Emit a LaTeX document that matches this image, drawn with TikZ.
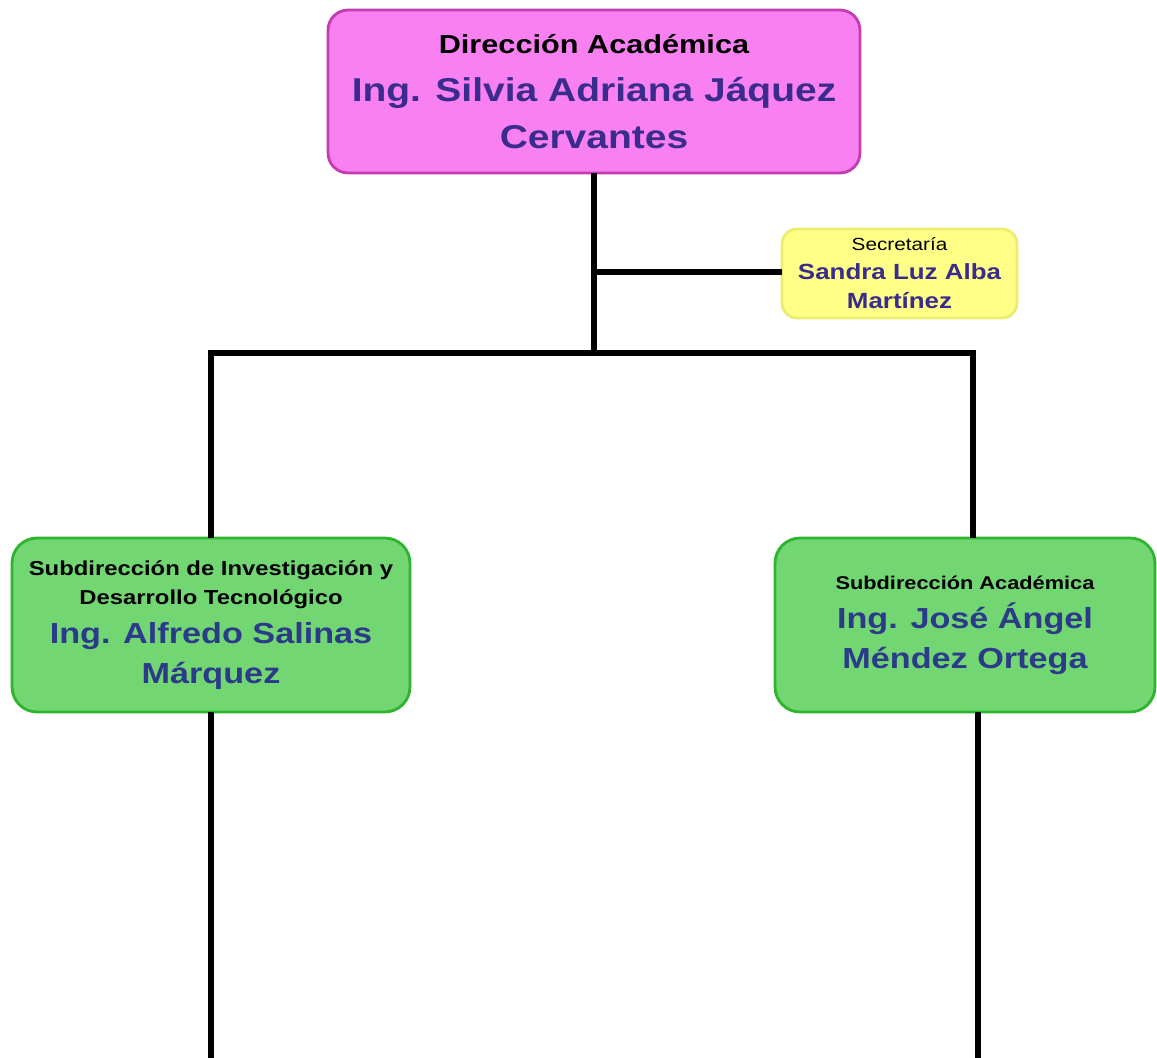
\documentclass[tikz,border=0pt]{standalone}
\usepackage{fontspec}
\setmainfont{Liberation Sans}
\newfontfamily\orgfont[FakeStretch=1.18]{Liberation Sans}
% line faces: title line and name lines
\newcommand\orgTitle[1]{\orgfont\bfseries\fontsize{#1}{#1}\selectfont}
\newcommand\orgPlain[1]{\orgfont\fontsize{#1}{#1}\selectfont}
\newcommand\orgName[2]{\orgfont\bfseries\color{#2}\fontsize{#1}{#1}\selectfont}
\begin{document}
\begin{tikzpicture}[x=0.02cm,y=-0.02cm,
  box/.style={rounded corners=0.4cm,line width=1.6pt,align=center,inner sep=0pt,outer sep=0pt},
  conn/.style={line width=3.1pt,line cap=butt}]
\definecolor{pinkfill}{RGB}{249,128,240}
\definecolor{pinkline}{RGB}{196,60,178}
\definecolor{greenfill}{RGB}{114,214,114}
\definecolor{greenline}{RGB}{46,180,46}
\definecolor{yellowfill}{RGB}{255,255,136}
\definecolor{yellowline}{RGB}{236,236,110}
\definecolor{nameblue}{RGB}{58,44,140}
\definecolor{greenname}{RGB}{44,58,138}

\useasboundingbox[fill=white] (0,0) rectangle (1157,1058);

% Dirección Académica
\node[box,fill=pinkfill,draw=pinkline,minimum width=10.64cm,minimum height=3.26cm,
      font=\fontsize{18.8}{26.5}\selectfont] (dir) at (594,91.5)
  {\orgTitle{14.8}Dirección Académica\\[1pt]
   \orgName{18.8}{nameblue}Ing. Silvia Adriana Jáquez\\
   \orgName{18.8}{nameblue}Cervantes};

% Secretaría
\node[box,rounded corners=0.3cm,fill=yellowfill,draw=yellowline,minimum width=4.7cm,minimum height=1.78cm,
      font=\fontsize{12.5}{16.5}\selectfont] (sec) at (899.5,273.5)
  {\orgPlain{10}Secretaría\\
   \orgName{12.5}{nameblue}Sandra Luz Alba\\
   \orgName{12.5}{nameblue}Martínez};

% Subdirección de Investigación y Desarrollo Tecnológico
\node[box,rounded corners=0.5cm,fill=greenfill,draw=greenline,minimum width=7.96cm,minimum height=3.48cm,
      font=\fontsize{16.5}{22.5}\selectfont] (inv) at (211,625)
  {\orgTitle{11.5}Subdirección de Investigación y\\[-6pt]
   \orgTitle{11.5}Desarrollo Tecnológico\\
   \orgName{16.5}{greenname}Ing. Alfredo Salinas\\
   \orgName{16.5}{greenname}Márquez};

% Subdirección Académica
\node[box,rounded corners=0.5cm,fill=greenfill,draw=greenline,minimum width=7.6cm,minimum height=3.48cm,
      font=\fontsize{16.5}{22.5}\selectfont] (acad) at (965,625)
  {\orgTitle{10.5}Subdirección Académica\\
   \orgName{16.5}{greenname}Ing. José Ángel\\
   \orgName{16.5}{greenname}Méndez Ortega};

% junction points of the tree
\coordinate (hub) at (594,353);
\coordinate (secjoin) at (594,272);
\coordinate (rtee) at (973,353);
\coordinate (rtee0) at (973,350);
\coordinate (lbot) at (211,1058);
\coordinate (rbot) at (978,1058);

\draw[conn] (dir.south) -- (hub);
\draw[conn] (secjoin) -- (sec.west |- secjoin);
\draw[conn] (inv.north) |- (hub) -- (rtee);
\draw[conn] (rtee0) -- (rtee0 |- acad.north);
\draw[conn] (inv.south) -- (lbot);
\draw[conn] (rbot |- acad.south) -- (rbot);
\end{tikzpicture}
\end{document}
